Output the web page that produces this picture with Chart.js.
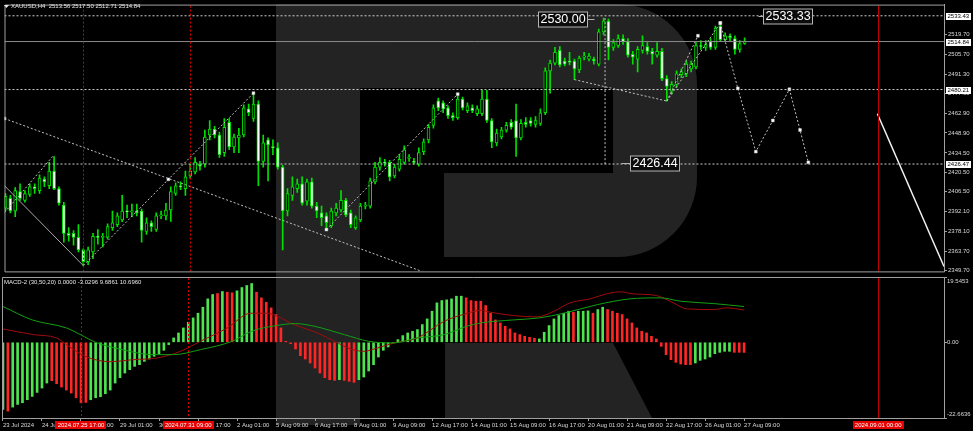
<!DOCTYPE html>
<html lang="en">
<head>
<meta charset="UTF-8">
<title>XAUUSD H4</title>
<script src="https://cdn.jsdelivr.net/npm/chart.js"></script>
<style>
    body {
        margin: 0;
        background: #000;
        width: 973px;
        height: 431px;
        overflow: hidden;
        position: relative;
    }
    canvas {
        position: absolute;
        left: 0;
    }
    #mark { top: 0; }
    #priceChart { top: 0; }
    #macdChart { top: 276px; }
</style>
</head>
<body>
<canvas id="mark" width="973" height="431"></canvas>
<canvas id="priceChart" width="973" height="276"></canvas>
<canvas id="macdChart" width="973" height="155"></canvas>

<script>
// ---- data: XAUUSD H4, 23 Jul 01:00 .. 27 Aug 09:00 (one entry per bar) ----
const openP = [
    2394.7, 2401.7, 2392.6, 2406.6, 2400.3, 2404.5, 2410.1, 2407.3, 2415.7, 2410.8,
    2421.4, 2408.7, 2396.8, 2376.4, 2376.4, 2373.6, 2364.5, 2356.0, 2363.1, 2374.3,
    2373.6, 2373.6, 2380.6, 2382.7, 2386.2, 2392.6, 2391.9, 2392.6, 2392.6, 2377.8,
    2384.1, 2379.2, 2389.1, 2389.1, 2393.3, 2405.2, 2410.8, 2408.7, 2417.9, 2420.7,
    2426.3, 2426.3, 2447.4, 2451.6, 2447.4, 2434.7, 2456.5, 2438.9, 2445.3, 2447.4,
    2466.3, 2459.3, 2469.8, 2428.4, 2443.9, 2439.0, 2438.2, 2424.2, 2392.6, 2403.8,
    2408.7, 2412.2, 2399.6, 2413.6, 2396.1, 2391.2, 2389.1, 2382.0, 2391.2, 2393.3,
    2400.3, 2391.2, 2380.6, 2386.2, 2396.1, 2396.1, 2413.6, 2424.2, 2427.7, 2427.7,
    2417.9, 2422.8, 2427.7, 2430.5, 2428.4, 2426.3, 2435.4, 2443.9, 2454.4, 2472.0,
    2470.6, 2467.0, 2461.4, 2460.0, 2473.4, 2464.9, 2467.0, 2462.8, 2462.8, 2473.4,
    2457.9, 2441.7, 2446.0, 2450.9, 2456.5, 2457.9, 2445.3, 2456.5, 2457.9, 2455.1,
    2455.8, 2463.5, 2493.7, 2499.3, 2508.5, 2500.8, 2500.8, 2500.8, 2494.4, 2503.6,
    2502.2, 2502.2, 2498.6, 2521.8, 2529.6, 2510.6, 2512.0, 2516.9, 2514.8, 2505.7,
    2502.2, 2508.5, 2511.3, 2507.8, 2505.0, 2507.8, 2488.1, 2479.0, 2483.9, 2490.9,
    2491.6, 2495.1, 2496.5, 2512.0, 2510.6, 2514.8, 2510.6, 2526.0, 2516.2, 2519.0,
    2516.9, 2509.2, 2513.56
];
const highP = [
    2405.2, 2403.8, 2409.4, 2412.2, 2407.3, 2412.2, 2412.2, 2418.6, 2417.2, 2427.7,
    2431.9, 2410.1, 2398.9, 2380.6, 2378.5, 2382.7, 2365.2, 2366.6, 2376.4, 2379.2,
    2376.4, 2383.4, 2392.6, 2391.2, 2403.8, 2396.8, 2397.5, 2397.5, 2394.0, 2387.7,
    2385.5, 2391.2, 2392.6, 2398.2, 2410.1, 2412.9, 2413.6, 2421.4, 2426.3, 2431.2,
    2428.4, 2450.9, 2457.9, 2453.7, 2449.5, 2459.3, 2459.3, 2448.1, 2452.3, 2469.1,
    2469.8, 2477.6, 2472.0, 2447.4, 2445.3, 2443.9, 2441.7, 2425.6, 2408.7, 2417.2,
    2415.7, 2417.2, 2415.7, 2416.4, 2398.9, 2396.1, 2391.2, 2394.7, 2398.2, 2407.3,
    2401.7, 2393.3, 2389.1, 2398.2, 2398.9, 2416.4, 2427.7, 2431.2, 2429.8, 2429.1,
    2426.3, 2433.3, 2439.6, 2433.3, 2430.5, 2438.2, 2444.6, 2455.1, 2469.1, 2474.1,
    2472.0, 2468.4, 2463.5, 2476.9, 2474.8, 2470.6, 2469.1, 2468.4, 2479.7, 2479.7,
    2459.3, 2451.6, 2453.0, 2456.5, 2458.6, 2469.8, 2458.6, 2460.0, 2460.0, 2460.7,
    2466.3, 2495.8, 2501.4, 2510.6, 2511.3, 2502.9, 2507.1, 2502.2, 2504.3, 2507.1,
    2506.4, 2503.6, 2523.9, 2531.7, 2531.0, 2516.2, 2519.7, 2519.7, 2516.9, 2507.8,
    2511.3, 2519.0, 2514.1, 2509.9, 2514.1, 2509.9, 2490.2, 2486.0, 2493.7, 2495.1,
    2500.8, 2500.8, 2514.1, 2515.5, 2515.5, 2516.9, 2526.0, 2528.2, 2521.1, 2520.4,
    2519.0, 2515.5, 2517.50
];
const lowP = [
    2392.6, 2391.2, 2388.4, 2400.3, 2398.9, 2403.1, 2405.2, 2405.2, 2410.1, 2408.7,
    2408.0, 2396.8, 2370.1, 2370.8, 2368.0, 2363.1, 2353.2, 2353.9, 2358.2, 2368.7,
    2366.6, 2372.2, 2378.5, 2381.3, 2384.8, 2387.7, 2388.4, 2389.0, 2370.1, 2375.7,
    2377.8, 2377.8, 2387.0, 2386.2, 2385.0, 2403.8, 2408.0, 2403.8, 2416.0, 2419.3,
    2422.1, 2424.2, 2443.9, 2445.3, 2431.2, 2431.9, 2436.8, 2434.7, 2434.7, 2446.0,
    2461.4, 2457.2, 2410.8, 2424.2, 2414.3, 2433.3, 2422.8, 2364.5, 2389.1, 2400.3,
    2405.9, 2396.8, 2396.8, 2394.7, 2387.7, 2382.0, 2379.2, 2380.6, 2389.1, 2392.0,
    2388.4, 2380.6, 2379.2, 2384.8, 2394.0, 2394.7, 2412.2, 2422.1, 2424.9, 2414.3,
    2416.4, 2421.4, 2426.3, 2428.4, 2426.3, 2424.9, 2433.3, 2441.7, 2452.3, 2464.9,
    2463.5, 2459.3, 2457.9, 2458.6, 2465.6, 2463.5, 2463.5, 2461.4, 2461.4, 2456.5,
    2438.2, 2439.6, 2444.6, 2449.5, 2451.6, 2431.9, 2443.9, 2453.0, 2453.7, 2453.0,
    2454.4, 2462.1, 2477.6, 2497.9, 2496.5, 2497.2, 2497.9, 2487.4, 2492.3, 2501.5,
    2500.8, 2498.6, 2497.2, 2519.7, 2501.5, 2508.5, 2510.6, 2512.7, 2503.6, 2498.6,
    2493.0, 2506.4, 2505.7, 2498.6, 2503.6, 2486.7, 2471.9, 2476.9, 2481.8, 2488.8,
    2489.5, 2493.0, 2495.1, 2509.2, 2508.5, 2509.2, 2509.2, 2514.8, 2514.8, 2515.5,
    2505.7, 2507.1, 2512.71
];
const closeP = [
    2403.1, 2392.6, 2407.3, 2401.7, 2405.2, 2410.1, 2408.7, 2416.4, 2413.6, 2421.4,
    2408.7, 2398.2, 2376.4, 2375.0, 2373.6, 2364.5, 2356.0, 2364.5, 2374.3, 2373.6,
    2374.3, 2381.3, 2384.1, 2389.1, 2392.6, 2391.9, 2392.6, 2391.2, 2378.5, 2384.1,
    2381.3, 2389.1, 2389.8, 2393.3, 2406.6, 2410.8, 2410.1, 2417.2, 2421.4, 2427.7,
    2424.9, 2446.0, 2451.6, 2447.4, 2433.3, 2453.0, 2438.9, 2446.0, 2447.4, 2467.0,
    2463.5, 2469.8, 2428.4, 2441.7, 2440.3, 2438.2, 2424.2, 2392.6, 2405.2, 2410.1,
    2412.2, 2398.2, 2413.6, 2396.1, 2392.6, 2387.7, 2384.1, 2392.6, 2394.7, 2400.3,
    2389.8, 2382.7, 2387.7, 2396.1, 2396.8, 2414.3, 2424.2, 2427.7, 2427.0, 2417.2,
    2424.2, 2429.8, 2436.8, 2431.2, 2427.7, 2434.7, 2442.4, 2453.0, 2467.0, 2467.0,
    2466.3, 2461.4, 2460.0, 2473.4, 2467.0, 2468.4, 2464.9, 2466.3, 2473.4, 2457.9,
    2442.4, 2448.8, 2450.9, 2454.4, 2453.0, 2445.3, 2455.8, 2455.1, 2455.8, 2457.9,
    2463.5, 2493.7, 2499.3, 2507.1, 2497.9, 2498.6, 2500.0, 2495.1, 2502.9, 2504.3,
    2504.3, 2500.8, 2521.8, 2529.6, 2510.6, 2514.1, 2516.9, 2514.8, 2505.0, 2503.6,
    2509.2, 2512.0, 2507.8, 2505.7, 2507.8, 2488.1, 2482.5, 2483.9, 2491.6, 2493.0,
    2498.6, 2498.6, 2512.0, 2511.3, 2512.7, 2510.6, 2524.6, 2516.2, 2519.0, 2517.6,
    2509.2, 2513.4, 2514.84
];

// MACD-2 histogram, one value per bar, and its colour runs (g = green, r = red)
const histVal = [
    -20.1, -20.6, -19.4, -18.6, -18.1, -17.2, -16.2, -15.0, -13.7, -12.2,
    -11.5, -12.4, -13.4, -14.3, -15.2, -16.6, -18.1, -18.0, -17.2, -16.6,
    -16.3, -15.4, -14.3, -12.2, -10.6, -9.2, -8.2, -7.2, -6.7, -5.7,
    -5.0, -4.2, -3.4, -2.4, -0.7, 1.3, 2.8, 4.3, 6.0, 7.3,
    8.7, 10.5, 13.0, 14.3, 14.6, 15.2, 15.0, 14.8, 15.4, 16.4,
    17.0, 17.6, 15.0, 13.3, 12.0, 10.3, 8.3, 4.3, 0.3, -0.4,
    -2.0, -4.0, -5.0, -6.2, -7.7, -9.2, -10.6, -11.2, -11.4, -11.2,
    -11.4, -11.7, -12.0, -11.2, -10.4, -8.6, -6.7, -4.4, -2.4, -1.4,
    -0.2, 0.8, 2.0, 2.8, 3.3, 3.8, 5.3, 7.0, 9.3, 11.8,
    12.5, 12.7, 13.0, 13.8, 13.8, 13.3, 12.5, 12.3, 12.3, 11.0,
    8.7, 6.7, 5.8, 4.8, 4.0, 2.8, 2.3, 1.8, 1.5, 1.2,
    1.0, 3.0, 5.0, 7.0, 8.0, 8.7, 9.3, 9.0, 9.3, 9.3,
    9.4, 8.7, 9.8, 10.5, 9.8, 9.3, 8.7, 8.3, 7.0, 5.8,
    4.3, 3.3, 2.8, 1.8, 1.0, -1.2, -3.7, -5.2, -6.0, -6.5,
    -6.7, -6.7, -6.2, -5.4, -5.0, -4.4, -3.4, -3.0, -2.7, -2.7,
    -3.0, -3.0, -3.03
];
const histRuns = [
    ['g', 1], ['r', 1], ['g', 8], ['r', 8], ['g', 26], ['r', 1], ['g', 1], ['r', 2],
    ['g', 4], ['r', 17], ['g', 1], ['r', 3], ['g', 22], ['r', 15], ['g', 7], ['r', 1],
    ['g', 3], ['r', 1], ['g', 2], ['r', 18], ['g', 8], ['r', 3]
];

// MACD-2 lines, read at a few bar positions
const lineGreenIdx = [0, 6, 13, 16, 19, 23, 31, 35, 40.5, 47, 51, 56, 60, 64, 70, 75, 80, 85, 90.5, 95, 98, 104.7, 110, 115, 122, 128.6, 134.8, 139, 145.7, 152];
const lineGreenVal = [10.7, 6.7, 4.3, 2.2, 0.0, -1.7, -3.7, -3.7, -2.2, 0.3, 3.3, 5.0, 5.6, 4.75, 2.3, 0.3, -0.2, 1.3, 2.3, 4.75, 5.8, 6.7, 7.3, 8.7, 11.3, 13.0, 13.3, 12.3, 11.6, 10.7];
const lineRedIdx = [0, 6.2, 11, 13, 17.2, 22, 26.8, 31.6, 36.4, 40.5, 46, 50.8, 54.2, 56.2, 59.7, 64.5, 68, 71.3, 74, 76.8, 80.2, 85, 90.5, 95.3, 98, 100, 104.7, 109.5, 113, 116.3, 120.4, 123.8, 126.6, 129.3, 134, 137.5, 140.2, 145.7, 148.5, 152];
const lineRedVal = [4.0, 2.3, 1.3, -0.7, -4.4, -5.8, -5.2, -4.7, -2.7, 0.3, 4.3, 8.7, 8.7, 7.8, 5.3, 2.8, 0.3, -2.0, -2.7, -1.7, -0.2, 1.3, 6.3, 8.7, 9.6, 9.0, 8.0, 7.6, 9.3, 11.8, 13.0, 14.5, 15.1, 14.5, 14.0, 11.8, 10.0, 9.8, 10.3, 9.69];

// axes
const xTickIdx = [0, 8, 16, 24, 32, 40, 48, 56, 64, 72, 80, 88, 96, 104, 112, 120, 128, 136, 144, 152];
const xTickText = ['23 Jul 2024', '24 Jul 09:00', '25 Jul 17:00', '29 Jul 01:00', '30 Jul 09:00', '31 Jul 17:00',
    '2 Aug 01:00', '5 Aug 09:00', '6 Aug 17:00', '8 Aug 01:00', '9 Aug 09:00', '12 Aug 17:00', '14 Aug 01:00',
    '15 Aug 09:00', '16 Aug 17:00', '20 Aug 01:00', '21 Aug 09:00', '22 Aug 17:00', '26 Aug 01:00', '27 Aug 09:00'];
const priceTicks = [2519.70, 2505.70, 2491.30, 2477.30, 2462.90, 2448.90, 2434.50, 2420.50, 2406.50, 2392.10, 2378.10, 2363.70, 2349.70];
const macdTicks = [19.5453, 0, -22.6636];
const macdTickText = ['19.5453', '0.00', '-22.6636'];

// objects on the chart
const levelPrices = [2533.43, 2480.21, 2426.47];
const bidPrice = 2514.84;
const axisMarks = [2533.43, 2514.84, 2480.21, 2426.47];
const flagIdx = [16, 38, 179.5];
const flagText = ['2024.07.25 17:00', '2024.07.31 09:00', '2024.09.01 00:00'];
const dottedLines = [
    [[-0.2, 2459.3], [85.5, 2349.2]],
    [[-0.2, 2391.5], [9.7, 2431.9]],
    [[16, 2353.2], [33.5, 2415.4], [51, 2477.6]],
    [[66, 2379.2], [93, 2476.9]],
    [[117, 2487.4], [136, 2471.9]],
    [[136, 2471.9], [142.4, 2519.0]],
    [[136, 2471.9], [147, 2528.2]],
    [[147, 2528.2], [150.6, 2481.1], [154.3, 2435.4], [157.8, 2457.9], [161.2, 2480.4], [163.4, 2451.0], [165.1, 2427.7]],
    [[123.3, 2531.7], [123.3, 2426.4]]
];
const solidLine = [[-0.2, 2410.8], [16, 2353.2]];
const futureLine = [[179.3, 2462.8], [193, 2352.5]];
const calloutText = ['2530.00', '2533.33', '2426.44'];
const calloutIdx = [109.6, 155.7, 128.4];
const calloutPrice = [2531.1, 2533.0, 2427.0];

const titleText = 'XAUUSD,H4  2513.56 2517.50 2512.71 2514.84';
const macdTitle = 'MACD-2 (30,50,20) 0.0000 -3.0296 9.6861 10.6960';

// ---- styles ----
const FONT = "'Liberation Sans', Arial, sans-serif";
const frameColor = '#a0a0a0';
const textColor = '#d8d8d8';
const candleGreen = '#00e000';
const xView = { min: -0.2, max: 193 };
const flagSolid = [false, false, true];
const dottedMarks = [[2, 0], [0, 0], [0, 2, 2], [2, 2], [0, 0], [0, 2], [0, 2], [2, 2, 2, 2, 2, 2, 2], [0, 0]];
const calloutDash = [7, -5, -9];

Chart.defaults.font.family = FONT;
Chart.defaults.color = textColor;

const bars = openP.map((_, i) => i);
const histTone = histRuns.flatMap(([t, n]) => Array(n).fill(t));

// ---- watermark behind both panes ----
(function drawMark() {
    const g = document.getElementById('mark').getContext('2d');
    g.fillStyle = '#232323';
    g.fillRect(276, 4, 84, 421);
    g.beginPath();
    g.moveTo(360, 4);
    g.lineTo(618, 4);
    g.arcTo(697, 4, 697, 84, 80);
    g.lineTo(697, 177);
    g.arcTo(697, 257, 617, 257, 80);
    g.lineTo(444, 257);
    g.lineTo(444, 173);
    g.lineTo(613, 173);
    g.lineTo(613, 88);
    g.lineTo(360, 88);
    g.closePath();
    g.fill();
    g.beginPath();
    g.moveTo(445, 343);
    g.lineTo(613, 343);
    g.lineTo(652, 418);
    g.lineTo(445, 418);
    g.closePath();
    g.fill();
})();

function lineSet(pts, color, width, dash, marks) {
    return {
        type: 'line',
        data: pts.map(p => ({ x: p[0], y: p[1] })),
        borderColor: color,
        borderWidth: width,
        borderDash: dash,
        pointRadius: marks || 0,
        pointStyle: 'rect',
        pointBackgroundColor: '#ffffff',
        pointBorderColor: '#bbbbbb',
        pointBorderWidth: 0.5,
        tension: 0,
        fill: false,
        order: 0
    };
}

function drawFrame(ctx, a) {
    ctx.strokeStyle = frameColor;
    ctx.lineWidth = 1;
    ctx.setLineDash([]);
    ctx.beginPath();
    ctx.moveTo(a.left + 0.5, a.bottom + 0.5);
    ctx.lineTo(a.left + 0.5, a.top + 0.5);
    ctx.lineTo(a.right + 0.5, a.top + 0.5);
    ctx.lineTo(a.right + 0.5, a.bottom + 0.5);
    ctx.lineTo(a.left + 0.5, a.bottom + 0.5);
    ctx.stroke();
}

function drawFlags(ctx, xs, top, bottom) {
    flagIdx.forEach((v, k) => {
        const px = Math.round(xs.getPixelForValue(v)) + 0.5;
        ctx.strokeStyle = flagSolid[k] ? '#c00000' : '#d00000';
        ctx.lineWidth = 1;
        ctx.setLineDash(flagSolid[k] ? [] : [2, 2]);
        ctx.beginPath();
        ctx.moveTo(px, top);
        ctx.lineTo(px, bottom);
        ctx.stroke();
    });
    ctx.setLineDash([]);
}

// ---- price pane ----
const priceDecor = {
    id: 'priceDecor',
    afterDraw(chart) {
        const { ctx, chartArea: a, scales: { x, y } } = chart;
        ctx.save();
        drawFlags(ctx, x, a.top + 1, a.bottom);
        drawFrame(ctx, a);

        // callouts
        ctx.font = '12.5px ' + FONT;
        ctx.textBaseline = 'middle';
        calloutText.forEach((t, k) => {
            const x0 = Math.round(x.getPixelForValue(calloutIdx[k])) + 0.5;
            const yc = Math.round(y.getPixelForValue(calloutPrice[k])) + 0.5;
            const w = Math.round(ctx.measureText(t).width) + 4;
            ctx.fillStyle = '#0c0c0c';
            ctx.fillRect(x0, yc - 7.5, w, 15);
            ctx.strokeStyle = '#b4b4b4';
            ctx.strokeRect(x0, yc - 7.5, w, 15);
            ctx.fillStyle = '#ffffff';
            ctx.textAlign = 'left';
            ctx.fillText(t, x0 + 2, yc + 0.5);
            const d = calloutDash[k];
            ctx.beginPath();
            if (d > 0) { ctx.moveTo(x0 + w, yc); ctx.lineTo(x0 + w + d, yc); }
            else { ctx.moveTo(x0, yc); ctx.lineTo(x0 + d, yc); }
            ctx.stroke();
        });

        // boxed prices on the axis
        ctx.font = '6px ' + FONT;
        axisMarks.forEach(v => {
            const yy = y.getPixelForValue(v);
            ctx.fillStyle = '#ffffff';
            ctx.fillRect(a.right + 2, Math.round(yy) - 3, 25, 7);
            ctx.fillStyle = '#000000';
            ctx.textAlign = 'left';
            ctx.fillText(v.toFixed(2), a.right + 3.5, Math.round(yy) + 0.5);
        });

        // title
        ctx.fillStyle = '#e6e6e6';
        ctx.beginPath();
        ctx.moveTo(4, 5);
        ctx.lineTo(9, 5);
        ctx.lineTo(6.5, 8);
        ctx.closePath();
        ctx.fill();
        ctx.font = '6px ' + FONT;
        ctx.textAlign = 'left';
        ctx.fillText(titleText, 11, 6.5);
        ctx.restore();
    }
};

new Chart(document.getElementById('priceChart'), {
    type: 'bar',
    data: {
        datasets: [
            {
                data: bars.map(i => ({ x: i, y: [lowP[i], highP[i]] })),
                backgroundColor: candleGreen,
                barThickness: 1,
                grouped: false,
                order: 3
            },
            {
                data: bars.map(i => ({ x: i, y: [openP[i], closeP[i]] })),
                backgroundColor: bars.map(i => closeP[i] >= openP[i] ? '#000000' : '#ffffff'),
                borderColor: candleGreen,
                borderWidth: 1,
                borderSkipped: false,
                barThickness: 3,
                minBarLength: 1,
                grouped: false,
                order: 2
            },
            lineSet([[xView.min, bidPrice], [xView.max, bidPrice]], '#8a8a8a', 1, []),
            ...levelPrices.map(v => lineSet([[xView.min, v], [xView.max, v]], '#cfcfcf', 1, [2, 2])),
            ...dottedLines.map((pts, k) => lineSet(pts, '#c2c2c2', 1, [2, 2], dottedMarks[k])),
            lineSet(solidLine, '#a8a8a8', 1, []),
            lineSet(futureLine, '#f4f4f4', 1.5, [])
        ]
    },
    options: {
        animation: false,
        responsive: false,
        events: [],
        layout: { padding: { left: 2, top: 1, right: 0, bottom: 1 } },
        plugins: { legend: { display: false }, tooltip: { enabled: false } },
        scales: {
            x: { type: 'linear', min: xView.min, max: xView.max, offset: false, display: false },
            y: {
                position: 'right',
                min: 2349.0,
                max: 2541.5,
                afterFit(s) { s.width = 29; },
                afterBuildTicks(s) { s.ticks = priceTicks.map(v => ({ value: v })); },
                ticks: {
                    autoSkip: false,
                    padding: 1,
                    color: textColor,
                    font: { size: 6 },
                    callback: v => v.toFixed(2)
                },
                grid: { drawOnChartArea: false, tickLength: 3, color: frameColor },
                border: { display: true, color: frameColor }
            }
        }
    },
    plugins: [priceDecor]
});

// ---- MACD pane ----
const macdDecor = {
    id: 'macdDecor',
    afterDraw(chart) {
        const { ctx, chartArea: a, scales: { x, y } } = chart;
        ctx.save();
        drawFlags(ctx, x, a.top + 1, a.bottom);
        drawFrame(ctx, a);

        ctx.font = '6px ' + FONT;
        ctx.textBaseline = 'middle';
        ctx.textAlign = 'left';
        ctx.fillStyle = '#e6e6e6';
        ctx.fillText(macdTitle, 4, a.top + 5.5);

        // axis values: top and bottom ones sit inside the pane
        ctx.fillStyle = textColor;
        macdTicks.forEach((v, k) => {
            const yy = Math.min(Math.max(y.getPixelForValue(v), a.top + 4), a.bottom - 4);
            ctx.fillText(macdTickText[k], a.right + 3, yy + 0.5);
        });

        // red time flags on the axis
        flagIdx.forEach((v, k) => {
            const px = x.getPixelForValue(v);
            const w = Math.round(ctx.measureText(flagText[k]).width) + 4;
            ctx.fillStyle = '#e60000';
            ctx.fillRect(Math.round(px - w / 2), a.bottom + 3, w, 8);
            ctx.fillStyle = '#ffffff';
            ctx.textAlign = 'center';
            ctx.fillText(flagText[k], px, a.bottom + 7.5);
        });
        ctx.restore();
    }
};

new Chart(document.getElementById('macdChart'), {
    type: 'bar',
    data: {
        datasets: [
            {
                data: bars.map(i => ({ x: i, y: histVal[i] })),
                backgroundColor: histTone.map(t => t === 'g' ? '#4ee44e' : '#ff2626'),
                barThickness: 2,
                grouped: false,
                order: 1
            },
            {
                type: 'line',
                data: lineGreenIdx.map((v, k) => ({ x: v, y: lineGreenVal[k] })),
                borderColor: '#12a012',
                borderWidth: 1,
                pointRadius: 0,
                cubicInterpolationMode: 'monotone',
                order: 0
            },
            {
                type: 'line',
                data: lineRedIdx.map((v, k) => ({ x: v, y: lineRedVal[k] })),
                borderColor: '#a00c0c',
                borderWidth: 1,
                pointRadius: 0,
                cubicInterpolationMode: 'monotone',
                order: 0
            }
        ]
    },
    options: {
        animation: false,
        responsive: false,
        events: [],
        layout: { padding: { left: 2, top: 1, right: 0, bottom: 0 } },
        plugins: { legend: { display: false }, tooltip: { enabled: false } },
        scales: {
            x: {
                type: 'linear',
                position: 'bottom',
                min: xView.min,
                max: xView.max,
                offset: false,
                afterFit(s) { s.height = 13; },
                afterBuildTicks(s) { s.ticks = xTickIdx.map(v => ({ value: v })); },
                ticks: {
                    autoSkip: false,
                    maxRotation: 0,
                    align: 'start',
                    padding: 1,
                    color: textColor,
                    font: { size: 6 },
                    callback: v => xTickText[xTickIdx.indexOf(v)]
                },
                grid: { display: true, drawOnChartArea: false, offset: false, tickLength: 3, color: frameColor },
                border: { display: true, color: frameColor }
            },
            y: {
                position: 'right',
                min: -22.6636,
                max: 19.5453,
                afterFit(s) { s.width = 29; },
                afterBuildTicks(s) { s.ticks = macdTicks.map(v => ({ value: v })); },
                ticks: { display: false },
                grid: { drawOnChartArea: false, tickLength: 3, color: frameColor },
                border: { display: true, color: frameColor }
            }
        }
    },
    plugins: [macdDecor]
});
</script>
</body>
</html>
